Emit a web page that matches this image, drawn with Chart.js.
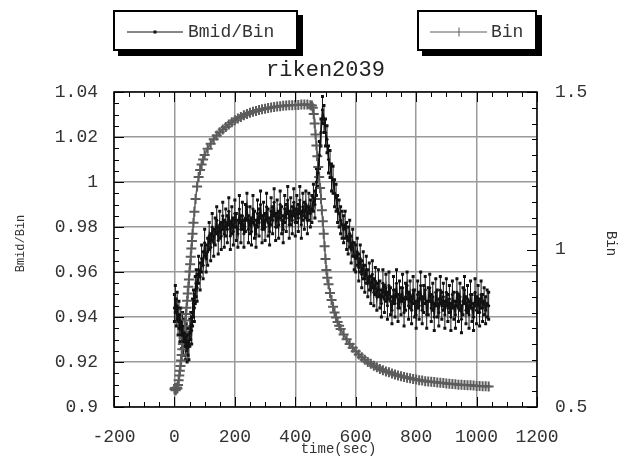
<!DOCTYPE html>
<html>
<head>
<meta charset="utf-8">
<title>riken2039</title>
<script src="https://cdn.jsdelivr.net/npm/chart.js@4.4.1/dist/chart.umd.min.js"></script>
<style>
    html, body { margin: 0; padding: 0; background: #fff; }
    canvas { display: block; }
</style>
</head>
<body>
<canvas id="chart" width="623" height="457"></canvas>
<script>
// Тики осей
const xTicks = [-200, 0, 200, 400, 600, 800, 1000, 1200];
const leftTicks = [0.9, 0.92, 0.94, 0.96, 0.98, 1, 1.02, 1.04];
const rightTicks = [0.5, 1, 1.5];

// Bmid/Bin (левая ось)
const bmidTimes = [
    0, 3, 6, 9, 12, 15, 18, 21, 24, 27,
    30, 33, 36, 39, 42, 45, 48, 51, 54, 57,
    60, 63, 66, 69, 72, 75, 80, 85, 90, 95,
    100, 105, 110, 115, 120, 125, 130, 135, 140, 145,
    150, 155, 160, 165, 170, 175, 180, 185, 190, 195,
    200, 205, 210, 215, 220, 225, 230, 235, 240, 245,
    250, 255, 260, 265, 270, 275, 280, 285, 290, 295,
    300, 305, 310, 315, 320, 325, 330, 335, 340, 345,
    350, 355, 360, 365, 370, 375, 380, 385, 390, 395,
    400, 405, 410, 415, 420, 425, 430, 435, 440, 445,
    450, 455, 460, 465, 470, 475, 480, 485, 490, 495,
    500, 505, 510, 515, 520, 525, 530, 535, 540, 545,
    550, 555, 560, 565, 570, 575, 580, 585, 590, 595,
    600, 605, 610, 615, 620, 625, 630, 635, 640, 645,
    650, 655, 660, 665, 670, 675, 680, 685, 690, 695,
    700, 705, 710, 715, 720, 725, 730, 735, 740, 745,
    750, 755, 760, 765, 770, 775, 780, 785, 790, 795,
    800, 805, 810, 815, 820, 825, 830, 835, 840, 845,
    850, 855, 860, 865, 870, 875, 880, 885, 890, 895,
    900, 905, 910, 915, 920, 925, 930, 935, 940, 945,
    950, 955, 960, 965, 970, 975, 980, 985, 990, 995,
    1000, 1005, 1010, 1015, 1020, 1025, 1030, 1035, 1040,
];
const bmidBin = [
    0.944, 0.948, 0.942, 0.945, 0.938, 0.941, 0.935, 0.938, 0.932, 0.936,
    0.929, 0.933, 0.927, 0.931, 0.926, 0.929, 0.927, 0.933, 0.936, 0.934,
    0.942, 0.946, 0.944, 0.952, 0.955, 0.953, 0.961, 0.958, 0.966, 0.963,
    0.973, 0.966, 0.969, 0.976, 0.971, 0.980, 0.973, 0.978, 0.983, 0.974,
    0.981, 0.976, 0.985, 0.977, 0.982, 0.979, 0.987, 0.976, 0.983, 0.978,
    0.986, 0.980, 0.977, 0.988, 0.979, 0.985, 0.977, 0.984, 0.989, 0.979,
    0.983, 0.978, 0.988, 0.981, 0.977, 0.986, 0.982, 0.990, 0.979, 0.985,
    0.980, 0.989, 0.982, 0.978, 0.987, 0.983, 0.991, 0.980, 0.986, 0.981,
    0.990, 0.983, 0.979, 0.988, 0.984, 0.992, 0.981, 0.987, 0.983, 0.991,
    0.982, 0.988, 0.984, 0.992, 0.981, 0.989, 0.985, 0.990, 0.983, 0.989,
    0.986, 0.988, 0.993, 0.990, 1.000, 1.004, 1.012, 1.022, 1.032, 1.028,
    1.022, 1.019, 1.010, 1.008, 1.002, 1.001, 0.995, 0.993, 0.988, 0.986,
    0.983, 0.981, 0.979, 0.981, 0.976, 0.974, 0.977, 0.970, 0.973, 0.967,
    0.966, 0.969, 0.962, 0.966, 0.959, 0.963, 0.957, 0.961, 0.955, 0.958,
    0.952, 0.959, 0.951, 0.956, 0.949, 0.955, 0.950, 0.946, 0.955, 0.948,
    0.953, 0.945, 0.954, 0.947, 0.943, 0.952, 0.946, 0.955, 0.944, 0.950,
    0.947, 0.953, 0.942, 0.949, 0.954, 0.945, 0.950, 0.943, 0.952, 0.946,
    0.941, 0.950, 0.945, 0.954, 0.943, 0.948, 0.952, 0.941, 0.947, 0.953,
    0.944, 0.949, 0.940, 0.951, 0.946, 0.942, 0.952, 0.945, 0.949, 0.941,
    0.951, 0.944, 0.948, 0.940, 0.950, 0.945, 0.941, 0.951, 0.944, 0.949,
    0.939, 0.947, 0.952, 0.943, 0.948, 0.941, 0.950, 0.944, 0.940, 0.951,
    0.943, 0.948, 0.942, 0.950, 0.944, 0.947, 0.943, 0.946, 0.945,
];
const bmidError = 0.006;

// Bin (правая ось)
const binTimes = [
    0, 2, 4, 6, 8, 10, 12, 14, 16, 18,
    20, 22, 24, 26, 28, 30, 32, 34, 36, 38,
    40, 42, 44, 46, 48, 50, 52, 54, 56, 58,
    60, 63, 66, 70, 75, 80, 85, 90, 95, 100,
    110, 120, 130, 140, 150, 160, 170, 180, 190, 200,
    210, 220, 230, 240, 250, 260, 270, 280, 290, 300,
    310, 320, 330, 340, 350, 360, 370, 380, 390, 400,
    410, 420, 430, 440, 450, 455, 458, 461, 464, 467,
    470, 473, 476, 479, 482, 485, 488, 491, 494, 497,
    500, 503, 506, 510, 515, 520, 525, 530, 535, 540,
    545, 550, 560, 570, 580, 590, 600, 610, 620, 630,
    640, 650, 660, 670, 680, 690, 700, 710, 720, 730,
    740, 750, 760, 770, 780, 790, 800, 810, 820, 830,
    840, 850, 860, 870, 880, 890, 900, 910, 920, 930,
    940, 950, 960, 970, 980, 990, 1000, 1010, 1020, 1030,
    1040,
];
const bin = [
    0.556, 0.560, 0.553, 0.558, 0.562, 0.559, 0.570, 0.585, 0.600, 0.615,
    0.630, 0.648, 0.665, 0.683, 0.700, 0.718, 0.737, 0.756, 0.775, 0.795,
    0.815, 0.837, 0.860, 0.882, 0.905, 0.930, 0.953, 0.977, 1.003, 1.027,
    1.050, 1.085, 1.120, 1.160, 1.200, 1.230, 1.252, 1.270, 1.286, 1.300,
    1.320, 1.336, 1.350, 1.362, 1.372, 1.381, 1.389, 1.397, 1.404, 1.410,
    1.416, 1.421, 1.426, 1.430, 1.434, 1.437, 1.440, 1.443, 1.445, 1.447,
    1.449, 1.451, 1.452, 1.454, 1.455, 1.456, 1.457, 1.458, 1.458, 1.459,
    1.459, 1.460, 1.460, 1.460, 1.458, 1.457, 1.450, 1.430, 1.400, 1.365,
    1.330, 1.296, 1.262, 1.230, 1.195, 1.160, 1.125, 1.090, 1.050, 1.010,
    0.970, 0.935, 0.910, 0.890, 0.862, 0.840, 0.818, 0.800, 0.784, 0.770,
    0.758, 0.748, 0.730, 0.715, 0.700, 0.688, 0.677, 0.667, 0.658, 0.650,
    0.643, 0.637, 0.631, 0.626, 0.621, 0.617, 0.613, 0.610, 0.606, 0.603,
    0.600, 0.598, 0.595, 0.593, 0.591, 0.589, 0.587, 0.585, 0.584, 0.582,
    0.581, 0.580, 0.579, 0.578, 0.577, 0.576, 0.575, 0.574, 0.573, 0.572,
    0.571, 0.571, 0.570, 0.569, 0.569, 0.568, 0.567, 0.567, 0.566, 0.566,
    0.565,
];

const MONO = '"Liberation Mono", "DejaVu Sans Mono", monospace';
const TEXT_COLOR = '#333';
const BMID_COLOR = '#111';
const BIN_COLOR = '#5c5c5c';

function toPoints(xs, ys) {
    return xs.map((x, i) => ({x: x, y: ys[i]}));
}

function isMajor(value, majors) {
    return majors.some((m) => Math.abs(m - value) < 1e-9);
}

// Вертикальные погрешности с точками на концах
const errorBarsPlugin = {
    id: 'errorBars',
    beforeDatasetsDraw(chart) {
        const ctx = chart.ctx;
        const xScale = chart.scales.x;
        chart.data.datasets.forEach((ds) => {
            if (!ds.errorBar) {
                return;
            }
            const yScale = chart.scales[ds.yAxisID];
            ctx.save();
            ctx.strokeStyle = ds.borderColor;
            ctx.fillStyle = ds.borderColor;
            ctx.lineWidth = 1;
            ds.data.forEach((p) => {
                const px = xScale.getPixelForValue(p.x);
                const lo = yScale.getPixelForValue(p.y - ds.errorBar);
                const hi = yScale.getPixelForValue(p.y + ds.errorBar);
                ctx.beginPath();
                ctx.moveTo(px, lo);
                ctx.lineTo(px, hi);
                ctx.stroke();
                ctx.fillRect(px - 1.5, lo - 1.5, 3, 3);
                ctx.fillRect(px - 1.5, hi - 1.5, 3, 3);
            });
            ctx.restore();
        });
    },
};

// Рамка и засечки внутрь области графика
const frameTicksPlugin = {
    id: 'frameTicks',
    afterDatasetsDraw(chart) {
        const {ctx, chartArea: a, scales} = chart;
        const MAJOR = 10;
        const MINOR = 5;

        ctx.save();
        ctx.strokeStyle = '#000';
        ctx.lineWidth = 1;
        ctx.beginPath();

        const xMin = xTicks[0];
        const xSteps = Math.round((xTicks[xTicks.length - 1] - xMin) / 50);
        for (let k = 0; k <= xSteps; k++) {
            const v = xMin + k * 50;
            const px = Math.round(scales.x.getPixelForValue(v)) + 0.5;
            const len = isMajor(v, xTicks) ? MAJOR : MINOR;
            ctx.moveTo(px, a.bottom);
            ctx.lineTo(px, a.bottom - len);
            ctx.moveTo(px, a.top);
            ctx.lineTo(px, a.top + len);
        }

        const yMin = leftTicks[0];
        const ySteps = Math.round((leftTicks[leftTicks.length - 1] - yMin) / 0.005);
        for (let k = 0; k <= ySteps; k++) {
            const v = yMin + k * 0.005;
            const py = Math.round(scales.y.getPixelForValue(v)) + 0.5;
            const len = isMajor(v, leftTicks) ? MAJOR : MINOR;
            ctx.moveTo(a.left, py);
            ctx.lineTo(a.left + len, py);
        }

        const rMin = rightTicks[0];
        const rSteps = Math.round((rightTicks[rightTicks.length - 1] - rMin) / 0.05);
        for (let k = 0; k <= rSteps; k++) {
            const v = rMin + k * 0.05;
            const py = Math.round(scales.y1.getPixelForValue(v)) + 0.5;
            const len = isMajor(v, rightTicks) ? MAJOR : MINOR;
            ctx.moveTo(a.right, py);
            ctx.lineTo(a.right - len, py);
        }
        ctx.stroke();

        ctx.lineWidth = 1.5;
        ctx.strokeRect(a.left, a.top, a.right - a.left, a.bottom - a.top);
        ctx.restore();
    },
};

// Подписи осей
const axisTitlesPlugin = {
    id: 'axisTitles',
    afterDraw(chart) {
        const {ctx, chartArea: a} = chart;
        const midY = (a.top + a.bottom) / 2 - 6;
        ctx.save();
        ctx.fillStyle = TEXT_COLOR;
        ctx.textAlign = 'center';
        ctx.textBaseline = 'middle';

        ctx.font = `12px ${MONO}`;
        ctx.save();
        ctx.translate(21, midY);
        ctx.rotate(-Math.PI / 2);
        ctx.fillText('Bmid/Bin', 0, 0);
        ctx.restore();

        ctx.font = `14px ${MONO}`;
        ctx.save();
        ctx.translate(611, midY);
        ctx.rotate(Math.PI / 2);
        ctx.fillText('Bin', 0, 0);
        ctx.restore();

        ctx.font = `14px ${MONO}`;
        ctx.fillText('time(sec)', (a.left + a.right) / 2 + 13, 449);
        ctx.restore();
    },
};

// Легенда в рамках с тенью
const legendBoxesPlugin = {
    id: 'legendBoxes',
    afterDraw(chart) {
        const ctx = chart.ctx;
        const boxes = [
            {x: 113, w: 185, lineFrom: 127, lineTo: 183, textX: 188},
            {x: 417, w: 120, lineFrom: 430, lineTo: 487, textX: 491},
        ];
        const top = 10;
        const h = 41;
        const midY = top + h / 2 + 1;

        chart.data.datasets.forEach((ds, i) => {
            const b = boxes[i];
            ctx.save();
            ctx.fillStyle = '#000';
            ctx.fillRect(b.x + 5, top + 5, b.w, h);
            ctx.fillStyle = '#fff';
            ctx.fillRect(b.x, top, b.w, h);
            ctx.strokeStyle = '#000';
            ctx.lineWidth = 2;
            ctx.strokeRect(b.x + 1, top + 1, b.w - 2, h - 2);

            ctx.strokeStyle = ds.borderColor;
            ctx.lineWidth = 1;
            ctx.beginPath();
            ctx.moveTo(b.lineFrom, midY + 0.5);
            ctx.lineTo(b.lineTo, midY + 0.5);
            const cx = (b.lineFrom + b.lineTo) / 2;
            if (ds.pointStyle === 'cross') {
                ctx.moveTo(cx + 0.5, midY - 4);
                ctx.lineTo(cx + 0.5, midY + 5);
            }
            ctx.stroke();
            if (ds.pointStyle !== 'cross') {
                ctx.fillStyle = ds.borderColor;
                ctx.fillRect(cx - 1.5, midY - 1, 3, 3);
            }

            ctx.fillStyle = TEXT_COLOR;
            ctx.font = `18px ${MONO}`;
            ctx.textAlign = 'left';
            ctx.textBaseline = 'middle';
            ctx.fillText(ds.label, b.textX, midY + 1);
            ctx.restore();
        });
    },
};

const tickFont = {family: MONO, size: 18};

new Chart(document.getElementById('chart').getContext('2d'), {
    type: 'line',
    data: {
        datasets: [
            {
                label: 'Bmid/Bin',
                data: toPoints(bmidTimes, bmidBin),
                yAxisID: 'y',
                borderColor: BMID_COLOR,
                backgroundColor: BMID_COLOR,
                borderWidth: 1.6,
                pointRadius: 1.6,
                pointBorderWidth: 0,
                pointBackgroundColor: BMID_COLOR,
                errorBar: bmidError,
                order: 1,
            },
            {
                label: 'Bin',
                data: toPoints(binTimes, bin),
                yAxisID: 'y1',
                borderColor: BIN_COLOR,
                backgroundColor: BIN_COLOR,
                borderWidth: 1.5,
                pointStyle: 'cross',
                pointRadius: 5,
                pointBorderWidth: 2,
                pointBorderColor: BIN_COLOR,
                order: 2,
            },
        ],
    },
    options: {
        responsive: false,
        animation: false,
        layout: {padding: 0},
        plugins: {
            legend: {display: false},
            tooltip: {enabled: false},
            title: {
                display: true,
                text: 'riken2039',
                fullSize: false,
                color: '#222',
                font: {family: MONO, size: 22, weight: 'normal'},
                padding: {top: 57, bottom: 8.6},
            },
        },
        scales: {
            x: {
                type: 'linear',
                min: xTicks[0],
                max: xTicks[xTicks.length - 1],
                afterBuildTicks: (scale) => {
                    scale.ticks = xTicks.map((v) => ({value: v}));
                },
                afterFit: (scale) => {
                    scale.height = 50;
                },
                ticks: {
                    font: tickFont,
                    color: TEXT_COLOR,
                    padding: 19,
                    maxRotation: 0,
                    autoSkip: false,
                    callback: (v) => String(v),
                },
                grid: {color: '#9a9a9a', lineWidth: 1.5, drawTicks: false},
                border: {display: false},
            },
            y: {
                position: 'left',
                min: leftTicks[0],
                max: leftTicks[leftTicks.length - 1],
                afterBuildTicks: (scale) => {
                    scale.ticks = leftTicks.map((v) => ({value: v}));
                },
                afterFit: (scale) => {
                    scale.width = 114;
                },
                ticks: {
                    font: tickFont,
                    color: TEXT_COLOR,
                    padding: 16,
                    autoSkip: false,
                    callback: (v) => String(v),
                },
                grid: {color: '#9a9a9a', lineWidth: 1.5, drawTicks: false},
                border: {display: false},
            },
            y1: {
                position: 'right',
                min: rightTicks[0],
                max: rightTicks[rightTicks.length - 1],
                afterBuildTicks: (scale) => {
                    scale.ticks = rightTicks.map((v) => ({value: v}));
                },
                afterFit: (scale) => {
                    scale.width = 86;
                },
                ticks: {
                    font: tickFont,
                    color: TEXT_COLOR,
                    padding: 18,
                    autoSkip: false,
                    callback: (v) => String(v),
                },
                grid: {display: false, drawTicks: false},
                border: {display: false},
            },
        },
    },
    plugins: [errorBarsPlugin, frameTicksPlugin, axisTitlesPlugin, legendBoxesPlugin],
});
</script>
</body>
</html>
